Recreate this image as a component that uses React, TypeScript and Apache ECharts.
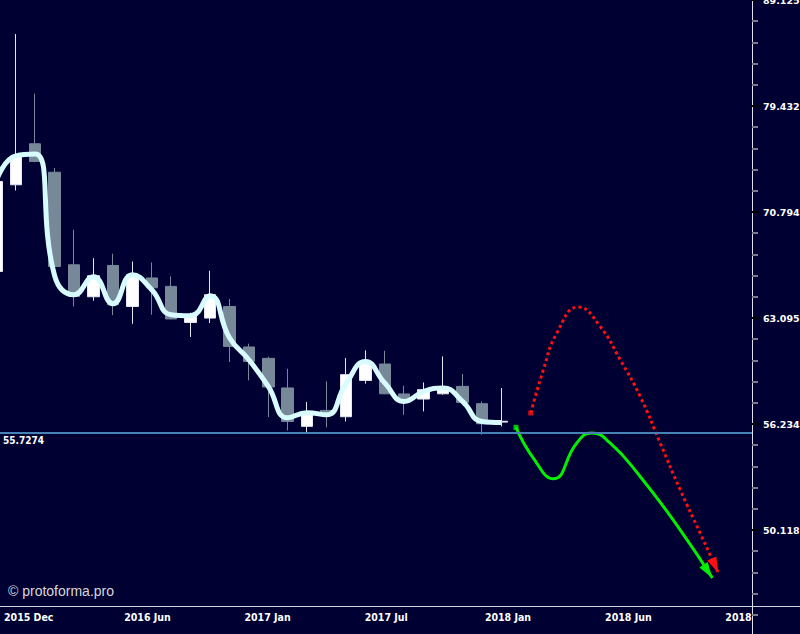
import React, { useEffect, useRef } from 'react';
import * as echarts from 'echarts';

// x unit = one candle slot (monthly bar); slot 0 = left edge of plot
const FIRST_SLOT = -0.1864; // slot of the first (partly hidden) candle
const X_MAX = 38.72;
const LABEL_STEP = 6.19;
const xLabels = ['2015 Dec', '2016 Jun', '2017 Jan', '2017 Jul', '2018 Jan', '2018 Jun', '2018'];

// OHLC (prices)
const candleOpen = [66.37, 72.92, 76.24, 73.92, 66.85, 64.57, 66.80, 63.89, 65.90, 65.30, 62.79, 63.09, 63.89, 61.14, 60.39, 58.48, 56.09, 57.07, 56.68, 58.96, 60.02, 58.10, 57.78, 58.11, 58.58, 57.49, 56.35];
const candleClose = [73.18, 75.20, 74.79, 66.73, 64.59, 66.06, 64.01, 66.13, 65.20, 63.03, 63.32, 64.71, 61.18, 60.19, 58.54, 56.39, 56.91, 56.85, 59.33, 60.19, 58.11, 57.78, 58.37, 58.43, 57.57, 56.25, 56.40];
const candleLow = [66.13, 72.47, 74.73, 66.71, 63.89, 64.29, 63.29, 62.70, 63.32, 63.00, 61.81, 62.75, 60.15, 58.96, 56.66, 55.84, 55.75, 56.03, 56.39, 58.75, 58.08, 56.80, 57.01, 58.05, 57.52, 55.58, 56.09];
const candleHigh = [73.72, 85.89, 80.50, 74.26, 69.44, 67.33, 67.66, 67.09, 67.02, 66.01, 63.46, 66.42, 64.41, 61.36, 60.50, 59.71, 57.59, 58.90, 60.41, 60.91, 60.89, 58.62, 58.83, 60.52, 59.37, 57.63, 58.48];

// smoothed average (one value per candle)
const maValues = [73.24, 75.25, 75.40, 66.06, 64.71, 65.99, 64.08, 66.13, 65.06, 63.32, 63.25, 64.64, 61.76, 60.30, 58.58, 56.62, 56.93, 56.80, 58.75, 60.19, 58.79, 57.63, 58.26, 58.48, 57.63, 56.39, 56.33];

// forecasts
const greenSlots = [26.57, 27.46, 28.49, 29.70, 30.47, 31.41, 32.96, 35.02, 36.68];
const greenPrices = [56.03, 54.19, 52.99, 55.09, 55.69, 55.09, 53.12, 50.13, 47.57];
const redSlots = [27.33, 27.98, 28.67, 29.78, 30.90, 31.93, 32.96, 33.99, 35.02, 36.05, 36.99];
const redPrices = [56.91, 59.65, 62.07, 63.85, 62.52, 60.30, 57.95, 55.09, 52.36, 49.95, 47.83];

const LEVEL = 55.7274;
const Y_MIN = 1.65;
const Y_MAX = 1.95;
const Y_STEP = 0.05;

const GREEN = '#00f000';
const RED = '#ff1010';

export default function App() {
  const ref = useRef<HTMLDivElement>(null);
  useEffect(() => {
    document.body.style.margin = '0';
    const chart = echarts.init(ref.current!, null, { renderer: 'svg' });
    const lg = (v: number) => Math.log10(v);
    const candleData = candleOpen.map((o, i) => [FIRST_SLOT + i, lg(o), lg(candleClose[i]), lg(candleLow[i]), lg(candleHigh[i])]);
    const maData = maValues.map((v, i) => [FIRST_SLOT + i, lg(v)]);
    const green = greenSlots.map((s, i) => [s, lg(greenPrices[i])]);
    const red = redSlots.map((s, i) => [s, lg(redPrices[i])]);
    const arrowColors = [GREEN, RED];
    const arrowData = [
      [...green[green.length - 2], ...green[green.length - 1], 0],
      [...red[red.length - 2], ...red[red.length - 1], 1],
    ];
    const axisFont = 'DejaVu Sans';
    const condFont = '"DejaVu Sans Condensed", "DejaVu Sans", sans-serif';

    chart.setOption({
      animation: false,
      backgroundColor: '#000033',
      grid: { left: 0, right: 48, top: 0, bottom: -2, containLabel: false, outerBoundsMode: 'none' },
      xAxis: {
        type: 'value',
        min: 0,
        max: X_MAX,
        interval: LABEL_STEP,
        offset: -29.5,
        axisLine: { show: true, onZero: false, lineStyle: { color: '#d0d0dc', width: 1 } },
        axisTick: { show: false },
        splitLine: { show: false },
        axisLabel: {
          showMaxLabel: false,
          align: 'left',
          margin: 5,
          padding: [0, 0, 0, 4],
          color: '#ffffff',
          fontFamily: condFont,
          fontWeight: 'bold',
          fontSize: 10.5,
          formatter: (v: number) => {
            const k = Math.round(v / LABEL_STEP);
            return Math.abs(v - k * LABEL_STEP) < 0.01 && xLabels[k] ? xLabels[k] : '';
          },
        },
      },
      yAxis: {
        type: 'value',
        position: 'right',
        min: Y_MIN,
        max: Y_MAX,
        interval: Y_STEP,
        axisLine: { show: true, onZero: false, lineStyle: { color: '#e0e0ea', width: 1 } },
        axisTick: { show: true, length: 8, lineStyle: { color: '#000000', width: 2 } },
        minorTick: { show: true, splitNumber: 5, length: 6, lineStyle: { color: '#7a7a8a', width: 2 } },
        splitLine: { show: false },
        minorSplitLine: { show: false },
        axisLabel: {
          showMinLabel: false,
          margin: 11,
          color: '#ffffff',
          fontFamily: axisFont,
          fontWeight: 'bold',
          fontSize: 9.5,
          formatter: (v: number) => (Math.floor(Math.pow(10, v) * 1000 + 1e-6) / 1000).toFixed(3),
        },
      },
      graphic: [
        { type: 'line', shape: { x1: 752, y1: 606.5, x2: 800, y2: 606.5 }, style: { stroke: '#d0d0dc', lineWidth: 1 } },
        {
          type: 'text',
          left: 8,
          top: 584,
          style: { text: '© protoforma.pro', fill: '#d8d8d8', font: '14px "Liberation Sans", Arial, sans-serif' },
        },
      ],
      series: [
        {
          type: 'candlestick',
          data: candleData,
          barWidth: 12,
          itemStyle: {
            color: '#ffffff',
            color0: '#778899',
            borderColor: '#e6e6ee',
            borderColor0: '#778899',
            borderWidth: 1,
          },
          markLine: {
            silent: true,
            precision: 8,
            symbol: ['none', 'none'],
            lineStyle: { color: '#4682b4', width: 2, type: 'solid' },
            label: {
              show: true,
              position: 'insideStartBottom',
              formatter: String(LEVEL),
              color: '#ffffff',
              fontFamily: condFont,
              fontWeight: 'bold',
              fontSize: 10,
              distance: [3, 3],
            },
            data: [{ yAxis: lg(LEVEL) }],
          },
        },
        {
          type: 'line',
          data: maData,
          smooth: 0.5,
          symbol: 'none',
          lineStyle: { color: '#d8fbff', width: 5 },
        },
        {
          type: 'line',
          data: green,
          smooth: 0.5,
          symbol: 'none',
          lineStyle: { color: GREEN, width: 3 },
        },
        {
          type: 'line',
          data: red,
          smooth: 0.5,
          symbol: 'none',
          lineStyle: { color: RED, width: 3, type: [3, 3] },
        },
        {
          type: 'scatter',
          data: [green[0]],
          symbol: 'rect',
          symbolSize: 5,
          itemStyle: { color: GREEN },
        },
        {
          type: 'scatter',
          data: [red[0]],
          symbol: 'rect',
          symbolSize: 5,
          itemStyle: { color: RED },
        },
        {
          type: 'custom',
          data: arrowData,
          encode: { x: [0, 2], y: [1, 3] },
          renderItem: (_params: any, api: any) => {
            const p1 = api.coord([api.value(0), api.value(1)]);
            const p2 = api.coord([api.value(2), api.value(3)]);
            const dx = p2[0] - p1[0];
            const dy = p2[1] - p1[1];
            const len = Math.hypot(dx, dy) || 1;
            const ux = dx / len;
            const uy = dy / len;
            const L = 16;
            const W = 5;
            const bx = p2[0] - ux * L;
            const by = p2[1] - uy * L;
            return {
              type: 'polygon',
              shape: { points: [p2, [bx - uy * W, by + ux * W], [bx + uy * W, by - ux * W]] },
              style: { fill: arrowColors[api.value(4)] },
            };
          },
        },
      ],
    });
    return () => chart.dispose();
  }, []);
  return <div ref={ref} style={{ position: 'fixed', left: 0, top: 0, width: 800, height: 634 }} />;
}
